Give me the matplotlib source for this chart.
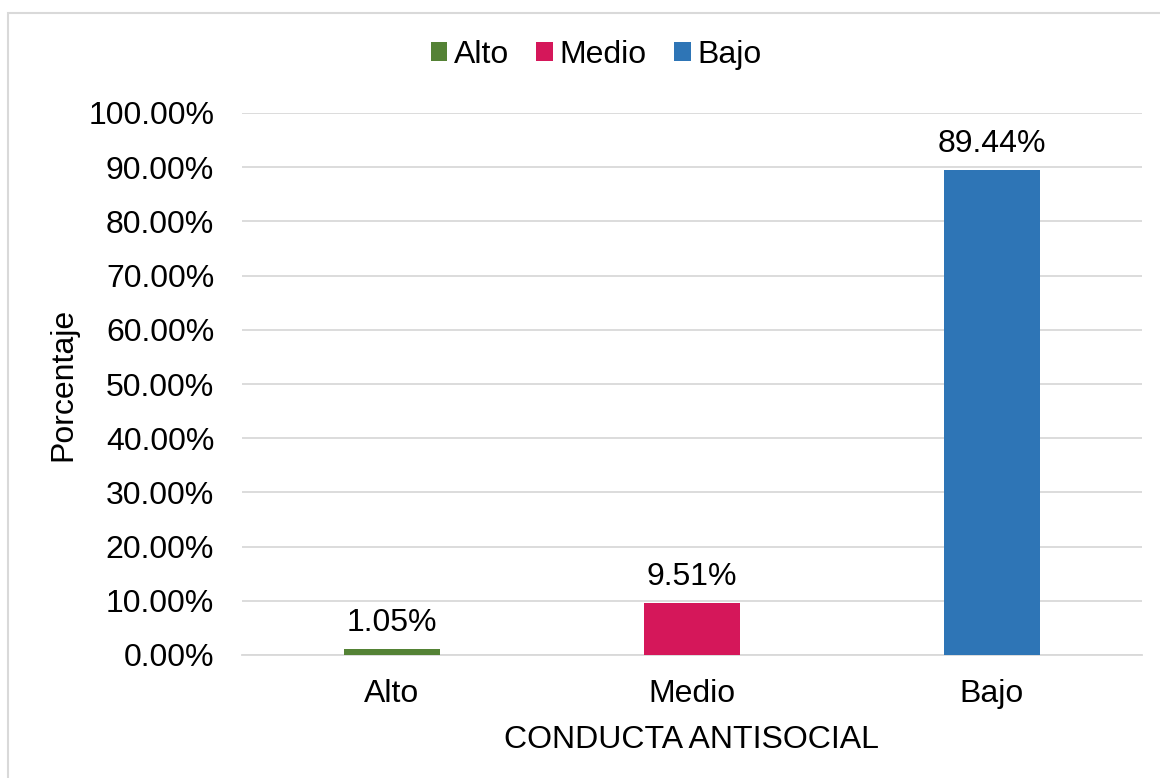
import matplotlib
matplotlib.use("Agg")
import matplotlib.pyplot as plt
from matplotlib.patches import Rectangle, Patch
from matplotlib.ticker import FuncFormatter, MultipleLocator

categories = ["Alto", "Medio", "Bajo"]
values = [1.05, 9.51, 89.44]
colors = ["#548235", "#D5175A", "#2E75B6"]
labels = ["1.05%", "9.51%", "89.44%"]

plt.rcParams['font.family'] = ['Liberation Sans', 'DejaVu Sans']
fs = 23

fig = plt.figure(figsize=(11.6, 7.78), dpi=100)
fig.patches.append(Rectangle((8/1160, -0.1), 1.2, 1.1 - 13/778, transform=fig.transFigure,
                             fill=False, edgecolor="#D9D9D9", linewidth=1.5))
ax = fig.add_axes([242/1160, 1 - 655/778, 900/1160, (655 - 113)/778])
bars = ax.bar(range(3), values, width=0.317, color=colors, zorder=3)
ax.set_xlim(-0.5, 2.5)
ax.set_ylim(0, 100)
ax.yaxis.set_major_locator(MultipleLocator(10))
ax.yaxis.set_major_formatter(FuncFormatter(lambda v, p: f"{v:.2f}%"))
ax.set_xticks(range(3))
ax.set_xticklabels(categories)
ax.grid(axis='y', color="#D9D9D9", linewidth=1.3, zorder=0)
for s in ["top", "right", "left"]:
    ax.spines[s].set_visible(False)
ax.spines["bottom"].set_color("#D9D9D9")
ax.spines["bottom"].set_linewidth(1.3)
ax.tick_params(axis='both', length=0, labelsize=fs, colors="black")
ax.tick_params(axis='x', pad=17)
ax.tick_params(axis='y', pad=20)
for b, lab in zip(bars, labels):
    ax.annotate(lab, (b.get_x() + b.get_width() / 2, b.get_height()),
                xytext=(0, 8), textcoords="offset points", ha="center", va="bottom", fontsize=fs)
ax.set_xlabel("CONDUCTA ANTISOCIAL", fontsize=fs, labelpad=12)
ax.set_ylabel("Porcentaje", fontsize=fs, labelpad=7)
handles = [Patch(facecolor=c, label=l) for c, l in zip(colors, categories)]
fig.legend(handles=handles, loc="center", bbox_to_anchor=(596/1160, 1 - 55/778), ncol=3,
           frameon=False, fontsize=fs, handlelength=0.53, handleheight=0.53,
           handletextpad=0.2, columnspacing=0.85)
fig.savefig("out.png", dpi=100)
